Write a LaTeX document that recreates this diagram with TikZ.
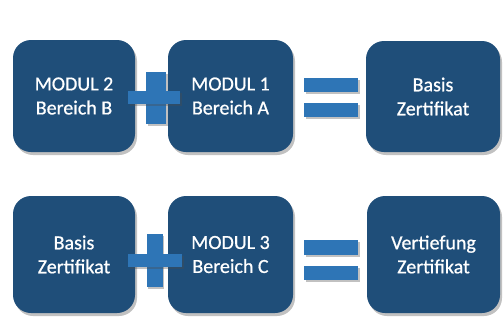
\documentclass[tikz,border=0pt]{standalone}
\usepackage{fontspec}
\setmainfont{Carlito}
\newfontfamily\cardfont{Carlito}[FakeBold=0.7]
\usetikzlibrary{shadows}
\definecolor{boxblue}{HTML}{1F4E79}
\definecolor{signblue}{HTML}{2E75B6}
\begin{document}
\begin{tikzpicture}[x=1pt,y=-1pt,
  card/.style={rounded corners=18pt, fill=boxblue, draw=none, text=white,
    align=center, font=\cardfont\fontsize{20}{24}\selectfont,
    drop shadow={shadow xshift=2pt, shadow yshift=-3pt, opacity=0.35, fill=black!70},
    inner sep=0pt},
  bar/.style={fill=signblue, draw=none, inner sep=0pt,
    drop shadow={shadow xshift=1.5pt, shadow yshift=-2pt, opacity=0.35, fill=black!70}}]
\useasboundingbox (0,0) rectangle (504,333);
% row 1
\node[card, minimum width=122pt, minimum height=112pt] (b1) at (74,96) {MODUL 2\\Bereich B};
\node[card, minimum width=125pt, minimum height=112pt] (b2) at (230.5,96) {MODUL 1\\Bereich A};
\node[card, minimum width=134pt, minimum height=111pt] (b3) at (433,96.5) {Basis\\Zertifikat};
\node[bar, minimum width=20pt, minimum height=52pt] (p1v) at (156,98) {};
\node[bar, minimum width=52pt, minimum height=13pt] (p1h) at (154,97.5) {};
\node[bar, minimum width=54pt, minimum height=14pt] (e1a) at (331,85) {};
\node[bar, minimum width=54pt, minimum height=14pt] (e1b) at (331,110) {};
% row 2
\node[card, minimum width=122pt, minimum height=117pt] (c1) at (74,254.5) {Basis\\Zertifikat};
\node[card, minimum width=125pt, minimum height=117pt] (c2) at (230.5,254.5) {MODUL 3\\Bereich C};
\node[card, minimum width=133pt, minimum height=117pt] (c3) at (433.5,254.5) {Vertiefung\\Zertifikat};
\node[bar, minimum width=16pt, minimum height=53pt] (p2v) at (154.5,260.5) {};
\node[bar, minimum width=54pt, minimum height=13pt] (p2h) at (155,260.5) {};
\node[bar, minimum width=54pt, minimum height=15pt] (e2a) at (331,247.5) {};
\node[bar, minimum width=54pt, minimum height=14pt] (e2b) at (331,273) {};
\end{tikzpicture}
\end{document}
